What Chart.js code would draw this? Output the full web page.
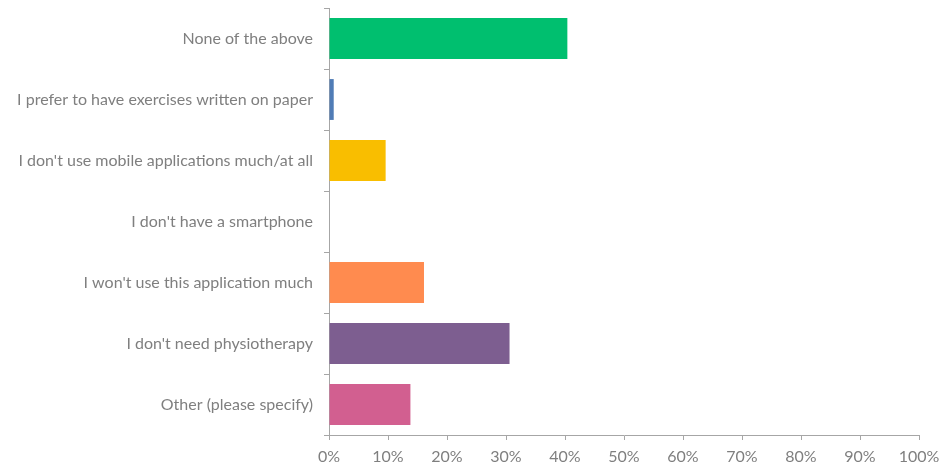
<!DOCTYPE html>
<html>
<head>
<meta charset="utf-8">
<script src="https://cdn.jsdelivr.net/npm/chart.js@4"></script>
<style>
  html, body { margin: 0; padding: 0; background: #fff; }
  #wrap { width: 944px; height: 468px; }
</style>
</head>
<body>
<div id="wrap"><canvas id="chart"></canvas></div>
<script>
const answers = [
  'None of the above',
  'I prefer to have exercises written on paper',
  "I don't use mobile applications much/at all",
  "I don't have a smartphone",
  "I won't use this application much",
  "I don't need physiotherapy",
  'Other (please specify)'
];
const percents = [40.4, 0.8, 9.6, 0, 16.1, 30.6, 13.8];
const barColors = ['#00BF6F', '#507CB6', '#F9BE00', '#6BC8CD', '#FF8B4F', '#7D5E90', '#D25F90'];
const xTicks = [0, 10, 20, 30, 40, 50, 60, 70, 80, 90, 100];

const axisGray = '#a6a6a6';
const textGray = '#7f7f7f';
const labelFont = { family: 'Lato', size: 16 };

const ctx = document.getElementById('chart').getContext('2d');

new Chart(ctx, {
  type: 'bar',
  data: {
    labels: answers,
    datasets: [{
      data: percents,
      backgroundColor: barColors,
      borderWidth: 0,
      barPercentage: 0.67,
      categoryPercentage: 1
    }]
  },
  options: {
    indexAxis: 'y',
    responsive: true,
    maintainAspectRatio: false,
    animation: false,
    layout: { padding: { top: 8, right: 25, left: 0, bottom: 0 } },
    plugins: {
      legend: { display: false },
      tooltip: { enabled: false }
    },
    scales: {
      x: {
        min: 0,
        max: 100,
        afterBuildTicks: (axis) => {
          axis.ticks = xTicks.map((v) => ({ value: v }));
        },
        afterFit: (axis) => {
          axis.height = 33;
          axis.paddingLeft = 0;
          axis.paddingRight = 0;
        },
        grid: {
          drawOnChartArea: false,
          drawTicks: true,
          tickLength: 5,
          color: axisGray
        },
        border: { color: axisGray, width: 1 },
        ticks: {
          callback: (v) => v + '%',
          color: textGray,
          font: labelFont,
          padding: 7,
          maxRotation: 0
        }
      },
      y: {
        afterFit: (axis) => {
          axis.width = 329;
          // keep the plot flush with the layout padding
          axis.paddingTop = 0;
          axis.paddingBottom = 0;
        },
        grid: {
          drawOnChartArea: false,
          drawTicks: true,
          tickLength: 5,
          color: axisGray,
          offset: true
        },
        border: { color: axisGray, width: 1 },
        ticks: {
          color: textGray,
          font: labelFont,
          padding: 11
        }
      }
    }
  }
});
</script>
</body>
</html>
